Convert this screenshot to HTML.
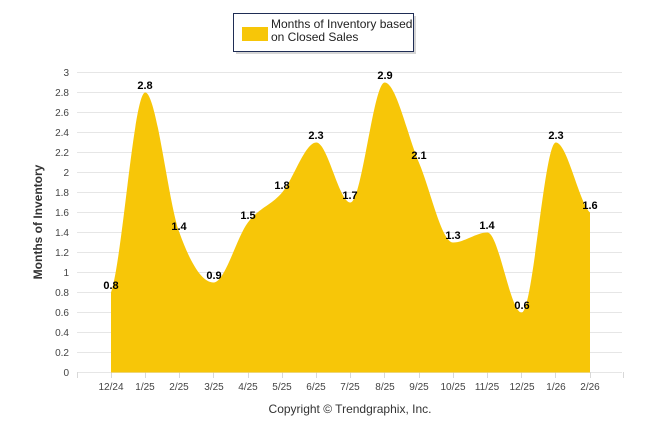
<!DOCTYPE html>
<html><head><meta charset="utf-8"><style>
html,body{margin:0;padding:0;background:#fff;}
svg{display:block;font-family:"Liberation Sans",sans-serif;}
</style></head><body>
<svg width="646" height="434" viewBox="0 0 646 434" xmlns="http://www.w3.org/2000/svg">
<rect x="0" y="0" width="646" height="434" fill="#fff"/>
<g stroke="#e6e6e6" stroke-width="1">
<line x1="77" x2="622" y1="372.5" y2="372.5"/>
<line x1="77" x2="622" y1="352.5" y2="352.5"/>
<line x1="77" x2="622" y1="332.5" y2="332.5"/>
<line x1="77" x2="622" y1="312.5" y2="312.5"/>
<line x1="77" x2="622" y1="292.5" y2="292.5"/>
<line x1="77" x2="622" y1="272.5" y2="272.5"/>
<line x1="77" x2="622" y1="252.5" y2="252.5"/>
<line x1="77" x2="622" y1="232.5" y2="232.5"/>
<line x1="77" x2="622" y1="212.5" y2="212.5"/>
<line x1="77" x2="622" y1="192.5" y2="192.5"/>
<line x1="77" x2="622" y1="172.5" y2="172.5"/>
<line x1="77" x2="622" y1="152.5" y2="152.5"/>
<line x1="77" x2="622" y1="132.5" y2="132.5"/>
<line x1="77" x2="622" y1="112.5" y2="112.5"/>
<line x1="77" x2="622" y1="92.5" y2="92.5"/>
<line x1="77" x2="622" y1="72.5" y2="72.5"/>
</g>
<g stroke="#d8d8d8" stroke-width="1">
<line x1="77.5" x2="77.5" y1="372" y2="378"/>
<line x1="111.5" x2="111.5" y1="372" y2="378"/>
<line x1="145.5" x2="145.5" y1="372" y2="378"/>
<line x1="179.5" x2="179.5" y1="372" y2="378"/>
<line x1="213.5" x2="213.5" y1="372" y2="378"/>
<line x1="248.5" x2="248.5" y1="372" y2="378"/>
<line x1="282.5" x2="282.5" y1="372" y2="378"/>
<line x1="316.5" x2="316.5" y1="372" y2="378"/>
<line x1="350.5" x2="350.5" y1="372" y2="378"/>
<line x1="384.5" x2="384.5" y1="372" y2="378"/>
<line x1="419.5" x2="419.5" y1="372" y2="378"/>
<line x1="453.5" x2="453.5" y1="372" y2="378"/>
<line x1="487.5" x2="487.5" y1="372" y2="378"/>
<line x1="521.5" x2="521.5" y1="372" y2="378"/>
<line x1="555.5" x2="555.5" y1="372" y2="378"/>
<line x1="590.5" x2="590.5" y1="372" y2="378"/>
<line x1="623.5" x2="623.5" y1="372" y2="378"/>
</g>
<path fill="#f7c608" d="M111,372.5 L111,292.5 C122.4,259.5 133.8,92.5 145.2,92.5 C156.6,92.5 168,200.8 179.4,232.5 C190.8,264.2 202.2,282.5 213.6,282.5 C225,282.5 236.5,237.5 247.9,222.5 C259.3,207.5 270.7,205.8 282.1,192.5 C293.5,179.2 304.9,142.5 316.3,142.5 C327.7,142.5 339.1,202.5 350.5,202.5 C361.9,202.5 373.3,82.5 384.7,82.5 C396.1,82.5 407.5,135.8 418.9,162.5 C430.3,189.2 441.7,242.5 453.1,242.5 C464.5,242.5 476,232.5 487.4,232.5 C498.8,232.5 510.2,312.5 521.6,312.5 C533,312.5 544.4,142.5 555.8,142.5 C567.2,142.5 578.6,200.8 590,212.5 L590,372.5 Z"/>
<g font-size="10" fill="#444" text-anchor="end">
<text x="69" y="376">0</text><text x="69" y="356">0.2</text><text x="69" y="336">0.4</text><text x="69" y="316">0.6</text><text x="69" y="296">0.8</text><text x="69" y="276">1</text><text x="69" y="256">1.2</text><text x="69" y="236">1.4</text><text x="69" y="216">1.6</text><text x="69" y="196">1.8</text><text x="69" y="176">2</text><text x="69" y="156">2.2</text><text x="69" y="136">2.4</text><text x="69" y="116">2.6</text><text x="69" y="96">2.8</text><text x="69" y="76">3</text>
</g>
<g font-size="10" fill="#444" text-anchor="middle">
<text x="111" y="390">12/24</text><text x="145" y="390">1/25</text><text x="179" y="390">2/25</text><text x="214" y="390">3/25</text><text x="248" y="390">4/25</text><text x="282" y="390">5/25</text><text x="316" y="390">6/25</text><text x="350" y="390">7/25</text><text x="385" y="390">8/25</text><text x="419" y="390">9/25</text><text x="453" y="390">10/25</text><text x="487" y="390">11/25</text><text x="522" y="390">12/25</text><text x="556" y="390">1/26</text><text x="590" y="390">2/26</text>
</g>
<g font-size="11" font-weight="bold" fill="#000" text-anchor="middle">
<text x="111" y="289">0.8</text><text x="145" y="89">2.8</text><text x="179" y="230">1.4</text><text x="214" y="279">0.9</text><text x="248" y="219">1.5</text><text x="282" y="189">1.8</text><text x="316" y="139">2.3</text><text x="350" y="199">1.7</text><text x="385" y="79">2.9</text><text x="419" y="159">2.1</text><text x="453" y="239">1.3</text><text x="487" y="229">1.4</text><text x="522" y="309">0.6</text><text x="556" y="139">2.3</text><text x="590" y="209">1.6</text>
</g>
<text transform="translate(42,222) rotate(-90)" font-size="12" font-weight="bold" fill="#333" text-anchor="middle">Months of Inventory</text>
<text x="350" y="413" font-size="12" fill="#333" text-anchor="middle">Copyright © Trendgraphix, Inc.</text>
<rect x="236" y="16" width="180" height="38" fill="#888" opacity="0.35"/>
<rect x="233.5" y="13.5" width="180" height="38" fill="#fff" stroke="#1f2d55" stroke-width="1"/>
<rect x="242" y="27" width="26" height="14" fill="#f7c608"/>
<text x="271" y="28" font-size="12" fill="#222">Months of Inventory based</text>
<text x="271" y="41" font-size="12" fill="#222">on Closed Sales</text>
</svg>
</body></html>
